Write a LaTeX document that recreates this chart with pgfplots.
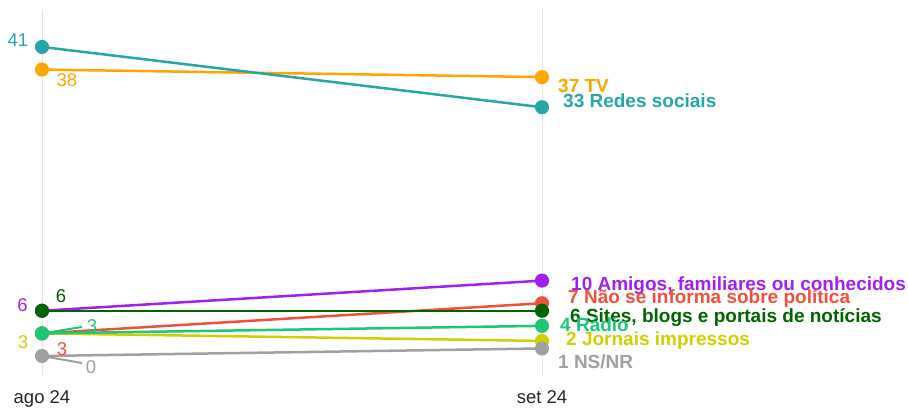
\documentclass[border=0pt]{standalone}
\usepackage{pgfplots}
\pgfplotsset{compat=1.18}
\usepackage{fontspec}
\setmainfont{Liberation Sans}
\definecolor{cteal}{RGB}{38,166,166}
\definecolor{corange}{RGB}{255,165,0}
\definecolor{cpurple}{RGB}{160,32,240}
\definecolor{cred}{RGB}{240,80,60}
\definecolor{cdkgreen}{RGB}{0,100,0}
\definecolor{cgreen}{RGB}{28,200,120}
\definecolor{cyellow}{RGB}{208,208,0}
\definecolor{cgray}{RGB}{160,160,160}
\tikzset{
  lbl/.style={font=\fontsize{19}{21}\selectfont\bfseries, anchor=base west, inner sep=0pt},
  nl/.style={font=\fontsize{18.5}{20}\selectfont, anchor=base, inner sep=0pt},
}
\begin{document}
\begin{tikzpicture}
\path[use as bounding box] (0,0) rectangle (908pt,409pt);
\begin{axis}[
  at={(42pt,34pt)}, anchor=south west,
  scale only axis, width=500pt, height=365pt,
  xmin=0, xmax=1, ymin=-2.52, ymax=45.9,
  clip=false,
  axis line style={draw=none},
  major tick length=0pt,
  xtick={0,1}, xticklabels={ago 24, set 24},
  ytick=\empty,
  xmajorgrids, grid style={color=black!10, line width=0.8pt},
  xticklabel style={font=\fontsize{18.5}{20}\selectfont, text=black!85, yshift=-12.5pt},
  every axis plot/.append style={line width=2.5pt, mark=*, mark size=5.8pt},
]
\addplot[color=cyellow] coordinates {(0,3) (1,2)};
\addplot[color=cgray] coordinates {(0,0) (1,1)};
\addplot[color=cred] coordinates {(0,3) (1,7)};
\addplot[color=cgreen] coordinates {(0,3) (1,4)};
\addplot[color=cpurple] coordinates {(0,6) (1,10)};
\addplot[color=cdkgreen] coordinates {(0,6) (1,6)};
\addplot[color=corange] coordinates {(0,38) (1,37)};
\addplot[color=cteal] coordinates {(0,41) (1,33)};

% leader lines
\draw[cgreen, line width=2pt] (axis cs:0,3) -- (axis cs:0.08,3.85);
\draw[cgray, line width=2pt] (axis cs:0,0) -- (axis cs:0.08,-0.93);

% left labels
\node[nl, text=cteal] at (axis cs:-0.048,41.0) {41};
\node[nl, text=corange] at (axis cs:0.05,35.69) {38};
\node[nl, text=cpurple] at (axis cs:-0.039,5.84) {6};
\node[nl, text=cdkgreen] at (axis cs:0.038,7.16) {6};
\node[nl, text=cyellow] at (axis cs:-0.038,1.06) {3};
\node[nl, text=cgreen] at (axis cs:0.1,3.18) {3};
\node[nl, text=cred] at (axis cs:0.04,0.13) {3};
\node[nl, text=cgray] at (axis cs:0.098,-2.26) {0};

% right labels
\node[lbl, text=corange] at (axis cs:1.032,34.94) {37 TV};
\node[lbl, text=cteal] at (axis cs:1.042,32.95) {33 Redes sociais};
\node[lbl, text=cpurple] at (axis cs:1.058,8.67) {10 Amigos, familiares ou conhecidos};
\node[lbl, text=cred] at (axis cs:1.052,6.95) {7 Não se informa sobre política};
\node[lbl, text=cdkgreen] at (axis cs:1.056,4.43) {6 Sites, blogs e portais de notícias};
\node[lbl, text=cgreen] at (axis cs:1.036,3.23) {4 Rádio};
\node[lbl, text=cyellow] at (axis cs:1.048,1.38) {2 Jornais impressos};
\node[lbl, text=cgray] at (axis cs:1.032,-1.68) {1 NS/NR};
\end{axis}
\end{tikzpicture}
\end{document}
